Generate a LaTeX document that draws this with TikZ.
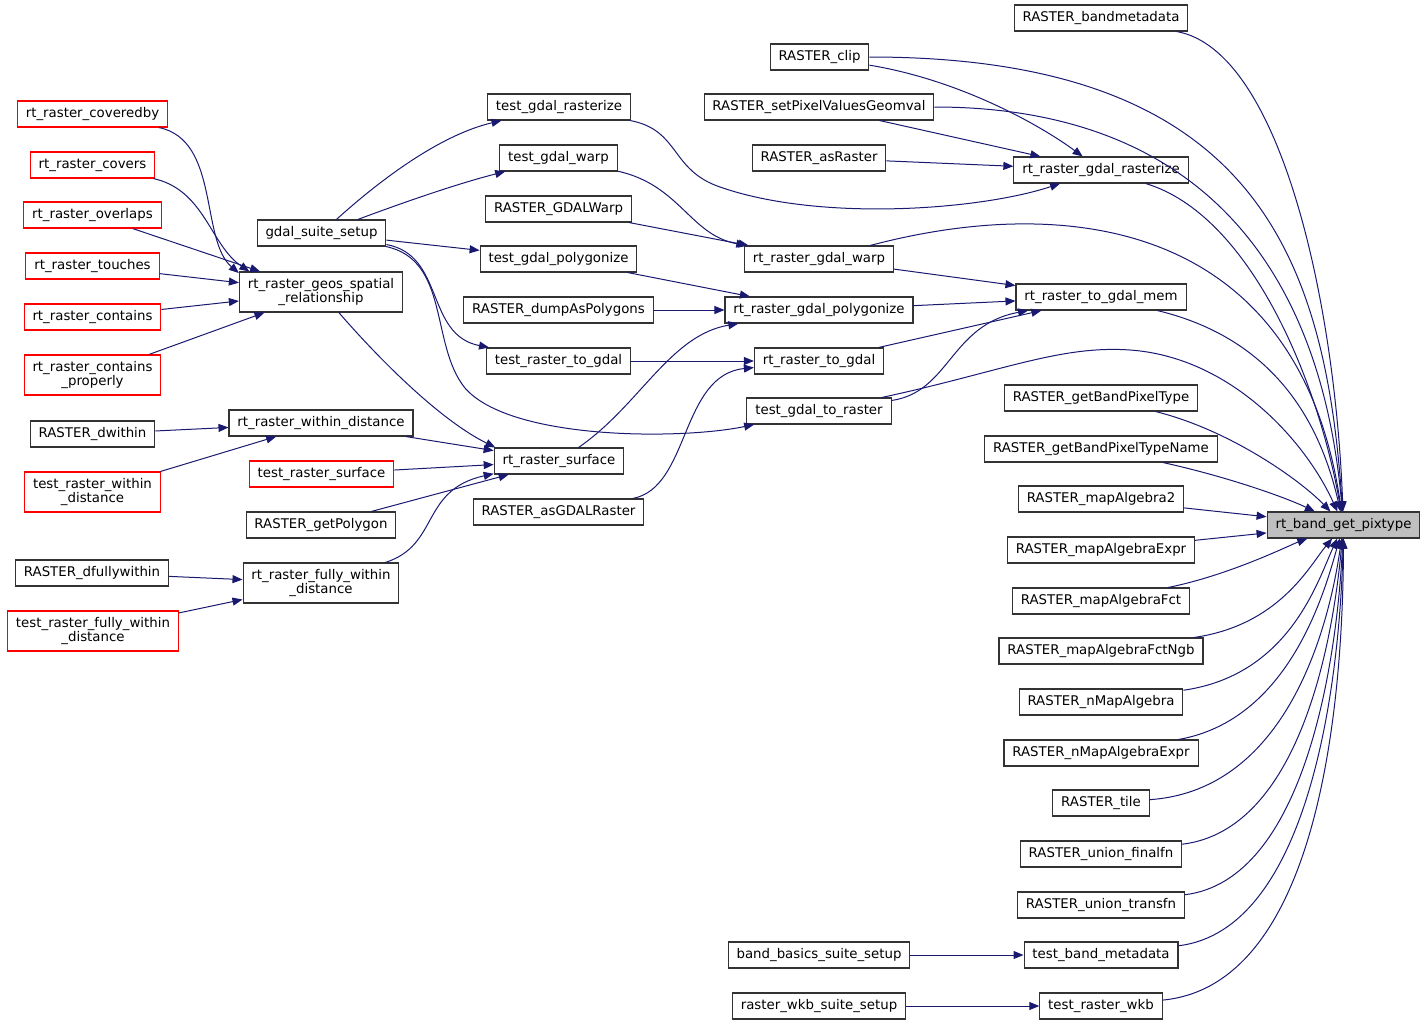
\documentclass[tikz,border=0pt]{standalone}
\usepackage{fontspec}
\setmainfont{DejaVu Sans}
\usetikzlibrary{arrows.meta}
\definecolor{edgeblue}{HTML}{191970}
\definecolor{hilite}{HTML}{BFBFBF}

\begin{document}
\begin{tikzpicture}[x=0.75pt,y=-0.75pt,
    fn/.style={draw=black!80,line width=0.8pt,fill=white,inner xsep=6.3pt,inner ysep=0pt,
      minimum height=19.5pt,align=center,font=\fontsize{10}{10.5}\selectfont},
    fnred/.style={fn,draw=red},
    tall/.style={minimum height=30pt},
    call/.style={draw=edgeblue,line width=0.75pt,-{Triangle[length=7.5pt,width=6pt]}}]
      \useasboundingbox (0,0) rectangle (1427,1025);
      \node[fn,fill=hilite] (n1) at (1343.5,525) {rt\_band\_get\_pixtype};
      \node[fn] (n2) at (1101,18) {RASTER\_bandmetadata};
      \node[fn] (n3) at (819.5,57) {RASTER\_clip};
      \node[fn] (n4) at (819,107) {RASTER\_setPixelValuesGeomval};
      \node[fn] (n5) at (819,158) {RASTER\_asRaster};
      \node[fn] (n6) at (1101,170) {rt\_raster\_gdal\_rasterize};
      \node[fn] (n7) at (559,107) {test\_gdal\_rasterize};
      \node[fn] (n8) at (558.5,158) {test\_gdal\_warp};
      \node[fn] (n9) at (558.5,209) {RASTER\_GDALWarp};
      \node[fn] (n10) at (819,259) {rt\_raster\_gdal\_warp};
      \node[fn] (n11) at (558.5,259) {test\_gdal\_polygonize};
      \node[fn] (n12) at (558.5,310) {RASTER\_dumpAsPolygons};
      \node[fn] (n13) at (819,310) {rt\_raster\_gdal\_polygonize};
      \node[fn] (n14) at (1101,297) {rt\_raster\_to\_gdal\_mem};
      \node[fn] (n15) at (558.5,361) {test\_raster\_to\_gdal};
      \node[fn] (n16) at (819,361) {rt\_raster\_to\_gdal};
      \node[fn] (n17) at (819,411) {test\_gdal\_to\_raster};
      \node[fn] (n18) at (1101,398) {RASTER\_getBandPixelType};
      \node[fn] (n19) at (1101,449) {RASTER\_getBandPixelTypeName};
      \node[fn] (n20) at (1101,499) {RASTER\_mapAlgebra2};
      \node[fn] (n21) at (1101,550) {RASTER\_mapAlgebraExpr};
      \node[fn] (n22) at (1101,601) {RASTER\_mapAlgebraFct};
      \node[fn] (n23) at (1101,651) {RASTER\_mapAlgebraFctNgb};
      \node[fn] (n24) at (1101,702) {RASTER\_nMapAlgebra};
      \node[fn] (n25) at (1101,753) {RASTER\_nMapAlgebraExpr};
      \node[fn] (n26) at (1101,803) {RASTER\_tile};
      \node[fn] (n27) at (1101,854) {RASTER\_union\_finalfn};
      \node[fn] (n28) at (1101,905) {RASTER\_union\_transfn};
      \node[fn] (n29) at (1101,955) {test\_band\_metadata};
      \node[fn] (n30) at (819,955) {band\_basics\_suite\_setup};
      \node[fn] (n31) at (1101,1006) {test\_raster\_wkb};
      \node[fn] (n32) at (819,1006) {raster\_wkb\_suite\_setup};
      \node[fn] (n33) at (321.5,233) {gdal\_suite\_setup};
      \node[fnred] (n34) at (92.5,114) {rt\_raster\_coveredby};
      \node[fnred] (n35) at (92.5,165) {rt\_raster\_covers};
      \node[fnred] (n36) at (92.5,215) {rt\_raster\_overlaps};
      \node[fnred] (n37) at (92.5,266) {rt\_raster\_touches};
      \node[fnred] (n38) at (92.5,317) {rt\_raster\_contains};
      \node[fnred,tall] (n39) at (92.5,375) {rt\_raster\_contains\\\_properly};
      \node[fn,tall] (n40) at (321,292) {rt\_raster\_geos\_spatial\\\_relationship};
      \node[fn] (n41) at (92.5,434) {RASTER\_dwithin};
      \node[fnred,tall] (n42) at (92.5,492) {test\_raster\_within\\\_distance};
      \node[fn] (n43) at (321,423) {rt\_raster\_within\_distance};
      \node[fnred] (n44) at (321.5,474) {test\_raster\_surface};
      \node[fn] (n45) at (559,461) {rt\_raster\_surface};
      \node[fn] (n46) at (321,525) {RASTER\_getPolygon};
      \node[fn] (n47) at (558.5,512) {RASTER\_asGDALRaster};
      \node[fn] (n48) at (92,573) {RASTER\_dfullywithin};
      \node[fnred,tall] (n49) at (93,631) {test\_raster\_fully\_within\\\_distance};
      \node[fn,tall] (n50) at (321,583) {rt\_raster\_fully\_within\\\_distance};
      \foreach \i/\j in {20/1, 21/1, 4/6, 5/6, 9/10, 10/14, 13/14, 16/14, 11/13, 12/13, 15/16,
        33/11, 36/40, 37/40, 38/40, 39/40, 41/43, 42/43, 43/45, 44/45, 46/45,
        48/50, 49/50, 30/29, 32/31} {
	\path (n\i) edge[call] (n\j);
      };
      \draw[call] (n2) .. controls (1280,50) and (1335,300) .. (n1);
      \draw[call] (n3) .. controls (1250,57) and (1325,250) .. (n1);
      \draw[call] (n4) .. controls (1210,107) and (1322,280) .. (n1);
      \draw[call] (n6) .. controls (1250,215) and (1318,380) .. (n1);
      \draw[call] (n10) .. controls (1080,190) and (1300,230) .. (n1);
      \draw[call] (n14) .. controls (1280,340) and (1322,430) .. (n1);
      \draw[call] (n17) .. controls (1000,372) and (1060,345) .. (1130,350)
        .. controls (1230,357) and (1305,440) .. (n1);
      \draw[call] (n18) .. controls (1230,430) and (1300,480) .. (n1);
      \draw[call] (n19) .. controls (1220,475) and (1280,495) .. (n1);
      \draw[call] (n22) .. controls (1230,575) and (1290,545) .. (n1);
      \draw[call] (n23) .. controls (1280,625) and (1310,565) .. (n1);
      \draw[call] (n24) .. controls (1290,675) and (1318,580) .. (n1);
      \draw[call] (n25) .. controls (1290,720) and (1325,590) .. (n1);
      \draw[call] (n26) .. controls (1290,790) and (1330,620) .. (n1);
      \draw[call] (n27) .. controls (1300,830) and (1333,640) .. (n1);
      \draw[call] (n28) .. controls (1305,880) and (1337,660) .. (n1);
      \draw[call] (n29) .. controls (1310,930) and (1340,680) .. (n1);
      \draw[call] (n31) .. controls (1320,985) and (1343,700) .. (n1);
      \draw[call] (n3) .. controls (960,80) and (1040,125) .. (n6);
      \draw[call] (n7) .. controls (680,130) and (670,170) .. (720,187)
        .. controls (820,222) and (980,210) .. (n6);
      \draw[call] (n8) .. controls (680,185) and (690,235) .. (n10);
      \draw[call] (n17) .. controls (950,392) and (950,325) .. (n14);
      \draw[call] (n45) .. controls (640,405) and (670,335) .. (n13);
      \draw[call] (n47) .. controls (690,488) and (680,375) .. (n16);
      \draw[call] (n33) .. controls (380,180) and (440,135) .. (n7);
      \draw[call] (n33) .. controls (410,200) and (460,183) .. (n8);
      \draw[call] (n33) .. controls (445,255) and (425,335) .. (n15);
      \draw[call] (n33) .. controls (450,260) and (430,345) .. (465,388)
        .. controls (510,440) and (680,440) .. (n17);
      \draw[call] (n34) .. controls (220,140) and (200,240) .. (n40.167);
      \draw[call] (n35) .. controls (205,190) and (210,245) .. (n40.164);
      \draw[call] (n40) .. controls (380,360) and (440,420) .. (n45.168);
      \draw[call] (n50) .. controls (440,545) and (420,490) .. (n45.191);
    \end{tikzpicture}
\end{document}
